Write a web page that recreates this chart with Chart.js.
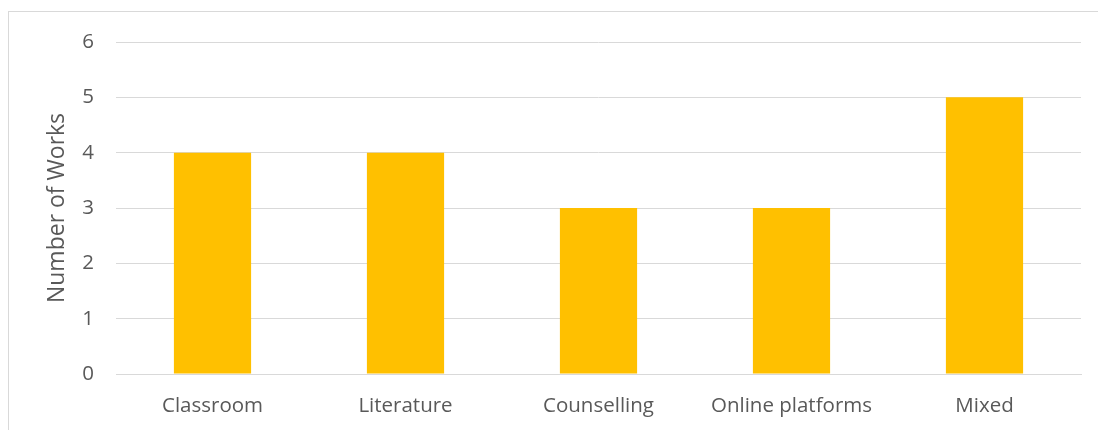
<!DOCTYPE html>
<html>
<head>
<meta charset="utf-8">
<script src="https://cdn.jsdelivr.net/npm/chart.js@4"></script>
<style>
  html, body { margin: 0; padding: 0; background: #fff; }
  #wrap { position: relative; width: 1098px; height: 430px; overflow: hidden; }
  #frame { position: absolute; left: 8px; top: 11px; width: 1200px; height: 500px; border: 1px solid #d9d9d9; }
  canvas { position: absolute; left: 0; top: 0; }
</style>
</head>
<body>
<div id="wrap">
  <div id="frame"></div>
  <canvas id="myChart" width="1098" height="430"></canvas>
</div>
<script>
const categories = ["Classroom", "Literature", "Counselling", "Online platforms", "Mixed"];
const works = [4, 4, 3, 3, 5];
const yTicks = [0, 1, 2, 3, 4, 5, 6];

const textColor = "#595959";
const gridColor = "#d9d9d9";
const font = { family: "'Open Sans', sans-serif", size: 20.5 };
const titleFont = { family: "'Open Sans', sans-serif", size: 23 };

const ctx = document.getElementById("myChart").getContext("2d");
const chart = new Chart(ctx, {
  type: "bar",
  data: {
    labels: categories,
    datasets: [
      {
        label: "Number of Works",
        backgroundColor: "#ffc000",
        data: works,
        categoryPercentage: 1,
        barPercentage: 0.4
      }
    ]
  },
  options: {
    responsive: false,
    animation: false,
    layout: { padding: { top: 42, right: 17, left: 0, bottom: 0 } },
    plugins: {
      legend: { display: false },
      tooltip: { enabled: false }
    },
    scales: {
      x: {
        grid: { display: false, drawTicks: false },
        border: { color: gridColor },
        ticks: { color: textColor, font: font, padding: 20, maxRotation: 0 },
        afterFit: scale => { scale.height = 56; }
      },
      y: {
        min: 0,
        max: 6,
        afterBuildTicks: scale => { scale.ticks = yTicks.map(v => ({ value: v })); },
        grid: { color: gridColor, drawTicks: false },
        border: { display: false },
        ticks: { color: textColor, font: font, padding: 22 },
        title: { display: true, text: "Number of Works", color: textColor, font: titleFont, padding: { top: 44 } },
        afterFit: scale => { scale.width = 116; }
      }
    }
  }
});
</script>
</body>
</html>
